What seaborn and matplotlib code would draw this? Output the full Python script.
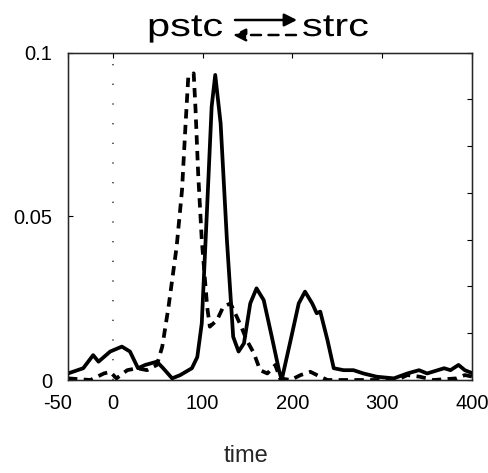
import numpy as np
import pandas as pd
import matplotlib
matplotlib.use("Agg")
import matplotlib.pyplot as plt
import matplotlib.patches as mpatches
from matplotlib.patheffects import AbstractPathEffect
from matplotlib.transforms import Affine2D, ScaledTranslation
import seaborn as sns

# values
solid_x = [-50, -33, -22, -16, -3, 10, 19, 28, 36, 49, 56, 66, 75, 88, 94, 99, 105, 110, 114,
           120, 127, 134, 140, 146, 153, 160, 168, 177, 185, 188, 198, 207, 214, 222, 227, 231,
           239, 246, 257, 268, 279, 294, 313, 328, 341, 350, 369, 376, 385, 392, 401]
solid_y = [0.002, 0.0036, 0.0076, 0.0056, 0.0087, 0.0102, 0.0087, 0.0036, 0.0046, 0.0056,
           0.0036, 0.0005, 0.0015, 0.0036, 0.007, 0.0173, 0.053, 0.0835, 0.0932, 0.0784,
           0.0428, 0.0132, 0.0087, 0.0112, 0.0234, 0.028, 0.0244, 0.0132, 0.003, 0.0,
           0.0122, 0.0234, 0.027, 0.0234, 0.0204, 0.0209, 0.0122, 0.0036, 0.003, 0.003,
           0.002, 0.001, 0.0005, 0.002, 0.003, 0.002, 0.0036, 0.003, 0.0046, 0.003, 0.002]

dashed_x = [-50, -25, -10, -3, 4, 16, 27, 38, 49, 55, 62, 71, 77, 81, 84, 90, 92, 95, 99,
            105, 108, 116, 123, 131, 138, 143, 149, 157, 164, 172, 181, 186, 198, 209, 220,
            231, 239, 260, 300, 320, 328, 342, 357, 383, 392, 401]
dashed_y = [0.0005, 0.0, 0.002, 0.0025, 0.0005, 0.003, 0.0036, 0.003, 0.0046, 0.0102,
            0.0224, 0.0407, 0.058, 0.0784, 0.0927, 0.0937, 0.083, 0.063, 0.0428, 0.0224,
            0.0163, 0.0183, 0.0224, 0.0234, 0.0193, 0.0163, 0.0122, 0.0082, 0.003, 0.002,
            0.0046, 0.0005, 0.0, 0.0015, 0.0025, 0.001, 0.0, 0.0, 0.0, 0.0005, 0.0015,
            0.001, 0.0, 0.0005, 0.0015, 0.001]

x_ticks = [-50, 0, 100, 200, 300, 400]
y_ticks = [0, 0.05, 0.1]
y_labels = ["0", "0.05", "0.1"]


class HStretch(AbstractPathEffect):
    # widen glyphs horizontally, the title font in the original is wide
    def __init__(self, sx):
        super().__init__()
        self.sx = sx

    def draw_path(self, renderer, gc, tpath, affine, rgbFace=None):
        renderer.draw_path(gc, tpath, Affine2D().scale(self.sx, 1) + affine, rgbFace)


sns.set_style("white")
plt.rcParams['font.family'] = ['Liberation Sans', 'DejaVu Sans']
plt.rcParams['text.color'] = 'black'
plt.rcParams['xtick.color'] = 'black'
plt.rcParams['ytick.color'] = 'black'

fig = plt.figure(figsize=(4.89, 4.73), dpi=100)
ax = fig.add_axes([68 / 489, 1 - 380 / 473, (472 - 68) / 489, (380 - 52.7) / 473])

solid = pd.DataFrame({"time": solid_x, "val": solid_y})
dashed = pd.DataFrame({"time": dashed_x, "val": dashed_y})

ax.axvline(0, color="#444444", linestyle=(0, (0.8, 11)), linewidth=1.2)
sns.lineplot(data=dashed, x="time", y="val", ax=ax, color="black", linewidth=2.7,
             linestyle=(0, (2.5, 1.7)), sort=False)
sns.lineplot(data=solid, x="time", y="val", ax=ax, color="black", linewidth=2.7, sort=False)

ax.set_xlim(-50, 400)
ax.set_ylim(0, 0.1)
ax.set_xticks(x_ticks)
ax.set_xticklabels([str(t) for t in x_ticks], fontsize=14.5)
ax.set_yticks(y_ticks)
ax.set_yticklabels(y_labels, fontsize=14.5)
ax.set_ylabel("")
ax.set_xlabel("time", fontsize=17, va="center")
ax.xaxis.set_label_coords((246 - 68) / 404, (380 - 456) / 327.3)
ax.tick_params(direction="in", length=3.6, width=0.8, top=True)
ax.tick_params(axis="x", pad=10)
ax.tick_params(axis="y", pad=11.5)
for s in ax.spines.values():
    s.set_color("black")
    s.set_linewidth(1.0)

# the "-50" label sits a little left of its tick in the original
first = ax.get_xticklabels()[0]
first.set_transform(first.get_transform() + ScaledTranslation(-10 / 100, 0, fig.dpi_scale_trans))

# right-hand ticks from a second scale
ax2 = ax.twinx()
ax2.set_ylim(0, 7)
ax2.set_yticks(range(8))
ax2.set_yticklabels([])
ax2.tick_params(direction="in", length=3.6, width=0.8)
ax2.grid(False)

# title with the two arrows
for label, left in [("pstc", 147), ("strc", 302)]:
    fig.text(left / 489, 1 - 36 / 473, label, fontsize=23, ha="left", va="baseline",
             path_effects=[HStretch(1.3)])
head = "-|>,head_length=0.75,head_width=0.38"
fig.add_artist(mpatches.FancyArrowPatch(
    (235 / 489, 1 - 20 / 473), (297 / 489, 1 - 20 / 473), transform=fig.transFigure,
    arrowstyle=head, mutation_scale=10, linewidth=1.8, color="black", shrinkA=0, shrinkB=0))
fig.add_artist(mpatches.FancyArrowPatch(
    (296 / 489, 1 - 35 / 473), (233 / 489, 1 - 35 / 473), transform=fig.transFigure,
    arrowstyle=head, mutation_scale=10, linewidth=1.8, color="black",
    linestyle=(0, (4, 3)), shrinkA=0, shrinkB=0))

fig.savefig("out.png", dpi=100)
